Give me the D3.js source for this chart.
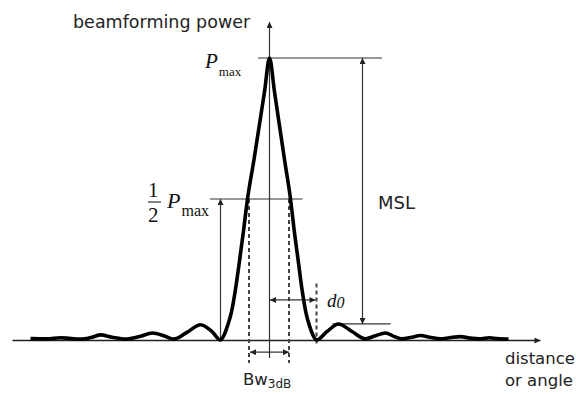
<!DOCTYPE html>
<html lang="en">
<head>
    <meta charset="UTF-8">
    <title>Beamforming power pattern</title>
    <script src="https://d3js.org/d3.v7.min.js"></script>
    <style>
        body { margin: 0; background: #fff; }
        .pattern { fill: none; stroke: #000; stroke-width: 3.6px; stroke-linejoin: round; }
        .guide { stroke: #333; stroke-width: 1.2px; fill: none; }
        .dash { stroke: #444; stroke-width: 2px; stroke-dasharray: 4 3; }
        .lbl { font-family: "DejaVu Sans", sans-serif; fill: #222; }
        .math { font-family: "Liberation Serif", serif; fill: #111; }
    </style>
</head>
<body>
<svg width="576" height="394"></svg>
<script>
// beam pattern, angle units (0 = look direction) and normalised power
const angle = [-95.6, -89, -83.6, -80, -75.6, -71, -67.6, -63, -57.6, -52, -46.8, -42, -38.4, -33, -27.6, -23, -19.6,
               -18.3, -16.8, -15.2, -13.6, -12, -10.5, -8.8, -6.2, -4.1, -2, 0,
               2, 4, 6, 8.4, 10, 11.5, 13, 14.5, 16, 17.5, 18.8,
               23, 27.6, 33, 38.4, 42, 46.4, 50, 53, 57, 60.4, 64, 68.4, 72, 76.4, 80, 84, 88, 91, 95.6];
const power = [0.005, 0.004, 0.008, 0.006, 0.003, 0.01, 0.018, 0.01, 0.003, 0.012, 0.025, 0.014, 0.003, 0.027, 0.054, 0.03, 0,
               0.015, 0.05, 0.1, 0.18, 0.28, 0.38, 0.5, 0.64, 0.76, 0.88, 1,
               0.88, 0.76, 0.64, 0.5, 0.38, 0.28, 0.18, 0.1, 0.05, 0.015, 0,
               0.03, 0.057, 0.03, 0.004, 0.014, 0.025, 0.012, 0.004, 0.01, 0.016, 0.01, 0.004, 0.008, 0.012, 0.007, 0.004, 0.008, 0.005, 0.003];

const peakLevel = 1, halfLevel = 0.5, sideLobeLevel = 0.057;
const leftNull = -19.6, rightNull = 18.8, bwEdges = [-8.2, 7.8];

const svg = d3.select("svg");
const x = d3.scaleLinear().domain([-103, 108.2]).range([12, 540]);
const y = d3.scaleLinear().domain([0, 1]).range([340, 58]);

const defs = svg.append("defs");
function arrowMarker(id) {
    defs.append("marker")
        .attr("id", id)
        .attr("viewBox", "0 0 10 10")
        .attr("refX", 10).attr("refY", 5)
        .attr("markerWidth", 7).attr("markerHeight", 6)
        .attr("markerUnits", "userSpaceOnUse")
        .attr("orient", "auto-start-reverse")
        .append("path")
        .attr("d", "M0,0L10,5L0,10Z")
        .attr("fill", "#222");
}
arrowMarker("arr");

// axes
const xAxis = svg.append("g")
    .attr("transform", `translate(0,${y(0)})`)
    .call(d3.axisBottom(x).tickValues([]).tickSizeOuter(0));
xAxis.select(".domain").attr("stroke", "#222").attr("stroke-width", 1.4).attr("marker-end", "url(#arr)");

function seg(x1, y1, x2, y2, cls) {
    return svg.append("line")
        .attr("class", cls || "guide")
        .attr("x1", x1).attr("y1", y1).attr("x2", x2).attr("y2", y2);
}

seg(x(0), y(-0.064), x(0), y(1.128)).attr("marker-end", "url(#arr)");

// dashed guides
bwEdges.forEach(a => seg(x(a), y(halfLevel), x(a), y(-0.082), "dash"));
seg(x(rightNull), y(0.2), x(rightNull), y(-0.022), "dash");

// level lines
seg(x(-4.6), y(peakLevel), x(45), y(peakLevel));
seg(x(-23.8), y(halfLevel), x(13.2), y(halfLevel));
seg(x(25.2), y(sideLobeLevel), x(48.4), y(sideLobeLevel)).attr("stroke-width", 1.6);

// arrows
seg(x(leftNull), y(0), x(leftNull), y(halfLevel)).attr("marker-end", "url(#arr)");
seg(x(37.2), y(sideLobeLevel), x(37.2), y(peakLevel))
    .attr("marker-start", "url(#arr)").attr("marker-end", "url(#arr)");
seg(x(bwEdges[0] + 0.4), y(-0.043), x(bwEdges[1]), y(-0.043))
    .attr("marker-start", "url(#arr)").attr("marker-end", "url(#arr)");
seg(x(0.2), y(0.142), x(rightNull - 0.4), y(0.142))
    .attr("marker-start", "url(#arr)").attr("marker-end", "url(#arr)");

// the pattern itself
const line = d3.line()
    .x((d, i) => x(angle[i]))
    .y(d => y(d))
    .curve(d3.curveMonotoneX);
svg.append("path").attr("class", "pattern").attr("d", line(power));

// labels
svg.append("text").attr("class", "lbl").attr("x", 73).attr("y", 28)
    .attr("font-size", 17.5).text("beamforming power");
svg.append("text").attr("class", "lbl").attr("x", 378).attr("y", 209)
    .attr("font-size", 18).text("MSL");
svg.append("text").attr("class", "lbl").attr("x", 505).attr("y", 364)
    .attr("font-size", 16.5).text("distance");
svg.append("text").attr("class", "lbl").attr("x", 505).attr("y", 386)
    .attr("font-size", 16.5).text("or angle");

const bw = svg.append("text").attr("class", "lbl").attr("x", 243).attr("y", 385).attr("font-size", 16.5);
bw.append("tspan").text("Bw");
bw.append("tspan").attr("font-size", 12).attr("dy", 3).text("3dB");

const pmax = svg.append("text").attr("class", "math").attr("x", 205).attr("y", 68);
pmax.append("tspan").attr("font-size", 21).attr("font-style", "italic").text("P");
pmax.append("tspan").attr("font-size", 13).attr("dy", 8).attr("dx", 1).text("max");

svg.append("text").attr("class", "math").attr("x", 148).attr("y", 197).attr("font-size", 21).text("1");
seg(148, 202, 161, 202).attr("stroke", "#111").attr("stroke-width", 1.4);
svg.append("text").attr("class", "math").attr("x", 148).attr("y", 222).attr("font-size", 21).text("2");
const ph = svg.append("text").attr("class", "math").attr("x", 167).attr("y", 208);
ph.append("tspan").attr("font-size", 22).attr("font-style", "italic").text("P");
ph.append("tspan").attr("font-size", 16).attr("dy", 8).attr("dx", 1).text("max");

const d0 = svg.append("text").attr("class", "math").attr("x", 327).attr("y", 307)
    .attr("font-size", 19).attr("font-style", "italic");
d0.append("tspan").text("d");
d0.append("tspan").attr("font-size", 16).attr("dy", 1).text("0");
</script>
</body>
</html>
